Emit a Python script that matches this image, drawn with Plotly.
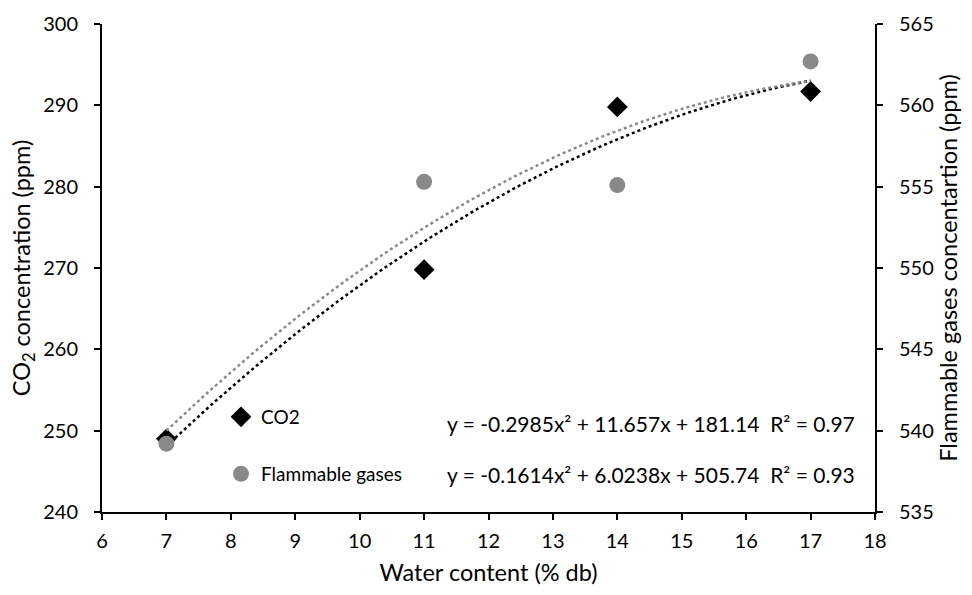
import numpy as np
import plotly.graph_objects as go

water = [7, 11, 14, 17]
co2 = [249.0, 269.8, 289.8, 291.7]
flam = [539.2, 555.3, 555.1, 562.7]

co2_coef = [-0.2985, 11.657, 181.14]
flam_coef = [-0.1614, 6.0238, 505.74]
co2_eq = "y = -0.2985x² + 11.657x + 181.14  R² = 0.97"
flam_eq = "y = -0.1614x² + 6.0238x + 505.74  R² = 0.93"

x_ticks = list(range(6, 19))
y1_ticks = list(range(240, 301, 10))
y2_ticks = list(range(535, 566, 5))

FONT = "Lato"
GREY = "#898989"
TICK_SIZE = 20
TITLE_SIZE = 23.5
EQ_SIZE = 21
LEG_SIZE = 19

xs = np.linspace(min(water), max(water), 120)

fig = go.Figure()
fig.add_trace(go.Scatter(x=xs, y=np.polyval(flam_coef, xs), mode="lines", yaxis="y2",
                         line=dict(color=GREY, width=2.5, dash="dot"), showlegend=False, hoverinfo="skip"))
fig.add_trace(go.Scatter(x=xs, y=np.polyval(co2_coef, xs), mode="lines",
                         line=dict(color="black", width=2.5, dash="dot"), showlegend=False, hoverinfo="skip"))
fig.add_trace(go.Scatter(x=water, y=flam, mode="markers", name="Flammable gases", yaxis="y2",
                         marker=dict(symbol="circle", size=16, color=GREY), legend="legend2"))
fig.add_trace(go.Scatter(x=water, y=co2, mode="markers", name="CO2",
                         marker=dict(symbol="diamond", size=16, color="black"), legend="legend"))

axis_common = dict(showgrid=False, zeroline=False, showline=True, linecolor="black", linewidth=2,
                   ticks="outside", ticklen=6, tickwidth=2, tickcolor="black",
                   tickfont=dict(family=FONT, size=TICK_SIZE, color="black"))

fig.update_layout(
    width=972, height=595,
    margin=dict(l=102, r=97, t=24, b=83),
    paper_bgcolor="white", plot_bgcolor="white",
    font=dict(family=FONT, size=LEG_SIZE, color="black"),
    xaxis=dict(range=[6, 18], tickvals=x_ticks, ticklabelstandoff=4,
               title=dict(text="Water content (% db)", font=dict(family=FONT, size=TITLE_SIZE), standoff=14),
               **axis_common),
    yaxis=dict(range=[240, 300], tickvals=y1_ticks, ticklabelstandoff=12,
               title=dict(text="CO<sub>2</sub> concentration (ppm)", font=dict(family=FONT, size=TITLE_SIZE), standoff=6),
               **axis_common),
    yaxis2=dict(range=[535, 565], tickvals=y2_ticks, overlaying="y", side="right", ticklabelstandoff=12,
                title=dict(text="Flammable gases concentartion (ppm)", font=dict(family=FONT, size=TITLE_SIZE), standoff=8),
                **axis_common),
    legend=dict(x=(221 - 102) / 773, y=(512 - 417) / 488, xanchor="left", yanchor="middle",
                bgcolor="rgba(0,0,0,0)", font=dict(family=FONT, size=LEG_SIZE), itemwidth=30),
    legend2=dict(x=(221 - 102) / 773, y=(512 - 474) / 488, xanchor="left", yanchor="middle",
                 bgcolor="rgba(0,0,0,0)", font=dict(family=FONT, size=LEG_SIZE), itemwidth=30),
    annotations=[
        dict(text=co2_eq, xref="paper", yref="paper", x=(857 - 102) / 773, y=(512 - 423) / 488,
             xanchor="right", yanchor="middle", showarrow=False, font=dict(family=FONT, size=EQ_SIZE)),
        dict(text=flam_eq, xref="paper", yref="paper", x=(857 - 102) / 773, y=(512 - 474) / 488,
             xanchor="right", yanchor="middle", showarrow=False, font=dict(family=FONT, size=EQ_SIZE)),
    ],
)

fig.write_html("out.html")
